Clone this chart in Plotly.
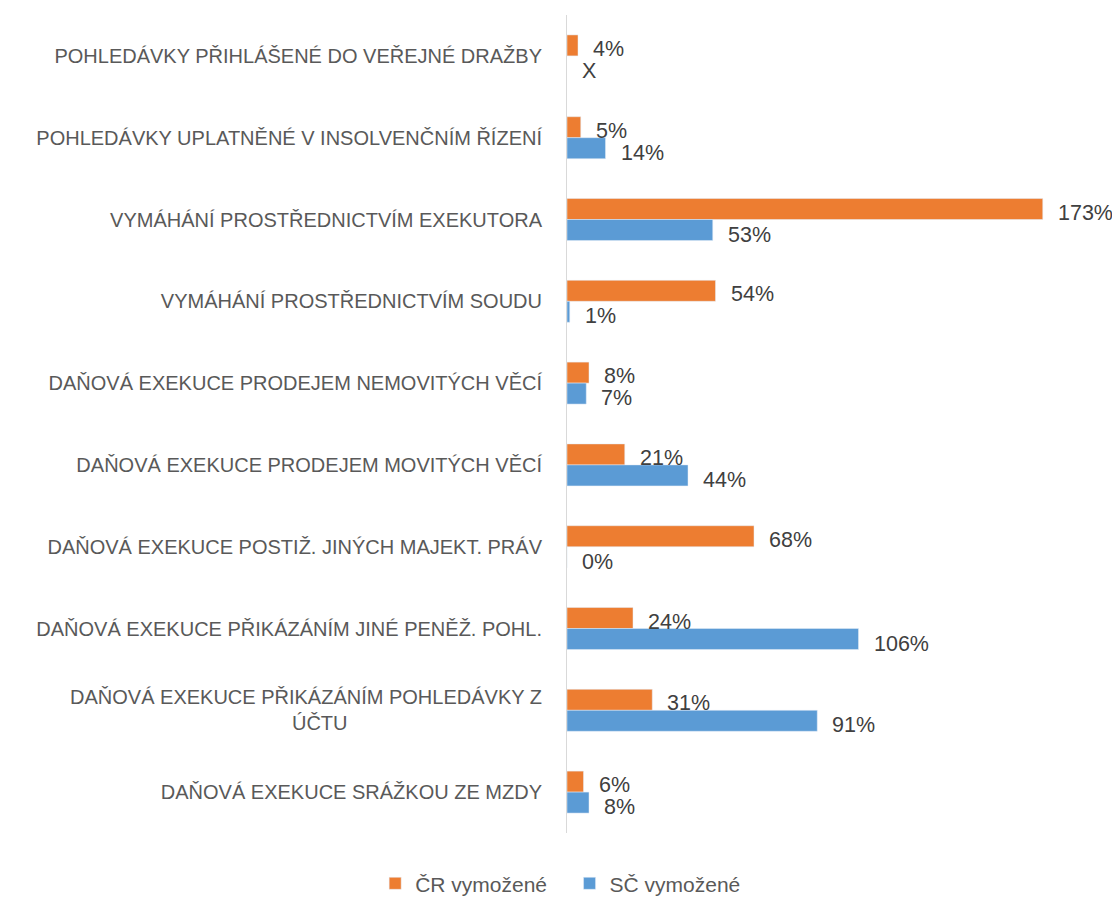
import plotly.graph_objects as go

categories = [
    "POHLEDÁVKY PŘIHLÁŠENÉ DO VEŘEJNÉ DRAŽBY",
    "POHLEDÁVKY UPLATNĚNÉ V INSOLVENČNÍM ŘÍZENÍ",
    "VYMÁHÁNÍ PROSTŘEDNICTVÍM EXEKUTORA",
    "VYMÁHÁNÍ PROSTŘEDNICTVÍM SOUDU",
    "DAŇOVÁ EXEKUCE PRODEJEM NEMOVITÝCH VĚCÍ",
    "DAŇOVÁ EXEKUCE PRODEJEM MOVITÝCH VĚCÍ",
    "DAŇOVÁ EXEKUCE POSTIŽ. JINÝCH MAJEKT. PRÁV",
    "DAŇOVÁ EXEKUCE PŘIKÁZÁNÍM JINÉ PENĚŽ. POHL.",
    "DAŇOVÁ EXEKUCE PŘIKÁZÁNÍM POHLEDÁVKY Z<br>ÚČTU" + "\u00a0" * 35,
    "DAŇOVÁ EXEKUCE SRÁŽKOU ZE MZDY",
]
cr_vymozene = [4, 5, 173, 54, 8, 21, 68, 24, 31, 6]
sc_vymozene = [None, 14, 53, 1, 7, 44, 0, 106, 91, 8]

ORANGE = "#ED7D31"
BLUE = "#5B9BD5"
FONT = "Liberation Sans"

fig = go.Figure()
fig.add_trace(go.Bar(y=categories, x=cr_vymozene, orientation="h",
                     name="ČR vymožené" + "\u00a0" * 3, marker_color=ORANGE))
fig.add_trace(go.Bar(y=categories, x=sc_vymozene, orientation="h",
                     name="SČ vymožené", marker_color=BLUE))

# data labels, placed to the right of each bar end
for cat, v in zip(categories, cr_vymozene):
    fig.add_annotation(x=v, y=cat, text=f"{v}%", showarrow=False, xanchor="left",
                       xshift=13, yshift=7, font=dict(size=21.5, color="#404040", family=FONT))
for cat, v in zip(categories, sc_vymozene):
    fig.add_annotation(x=v if v is not None else 0, y=cat,
                       text=f"{v}%" if v is not None else "X", showarrow=False,
                       xanchor="left", xshift=13, yshift=-15,
                       font=dict(size=21.5, color="#404040", family=FONT))

# page body has an 8px margin, so the figure is a bit smaller than the window
fig.update_layout(
    width=1112, height=889,
    margin=dict(l=559, r=3, t=7, b=64),
    paper_bgcolor="white", plot_bgcolor="white",
    barmode="group", bargap=0.487, bargroupgap=0,
    font=dict(family=FONT, color="#595959", size=20),
    legend=dict(orientation="h", xref="container", x=0.497, xanchor="center",
                yref="container", y=0.015, yanchor="middle",
                font=dict(size=21, color="#595959"), itemwidth=30,
                traceorder="normal"),
    xaxis=dict(range=[0, 200], showticklabels=False, showgrid=False, zeroline=False,
               automargin=False),
    yaxis=dict(autorange="reversed", showline=True, linecolor="#d9d9d9", linewidth=1,
               showgrid=False, ticks="", ticklabelstandoff=20, automargin=False,
               tickfont=dict(size=20, color="#595959")),
)

fig.write_html("out.html")
